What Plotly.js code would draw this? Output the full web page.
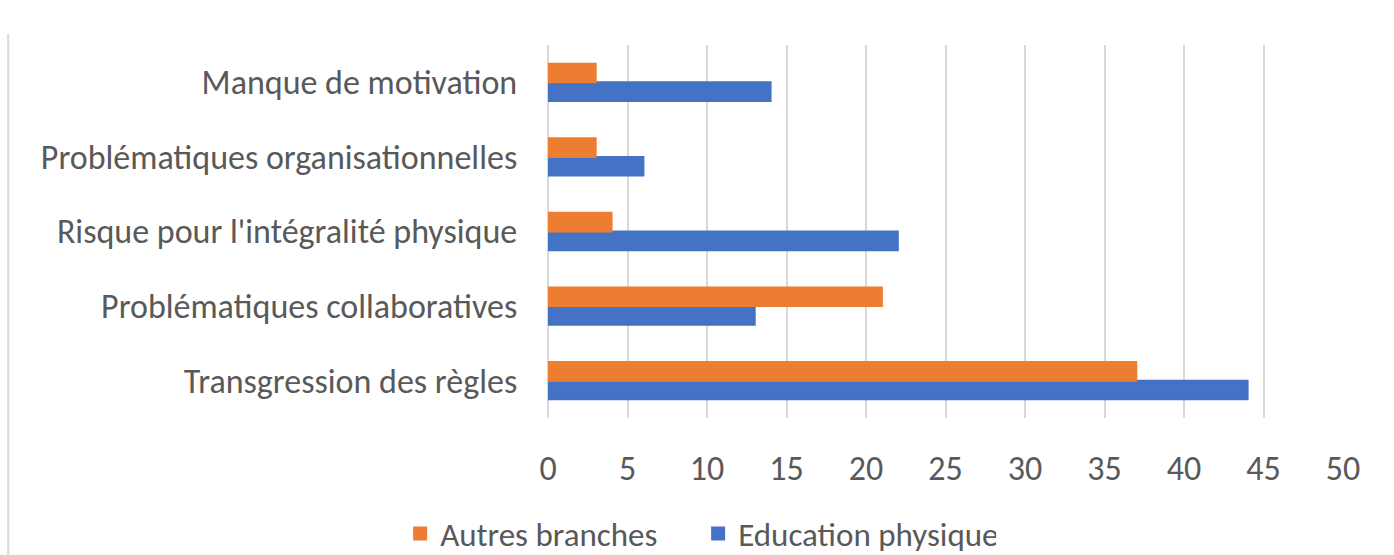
<!DOCTYPE html>
<html>
<head>
<meta charset="utf-8">
<script src="https://cdn.plot.ly/plotly-3.0.1.min.js"></script>
<style>html,body{margin:0;padding:0;background:#fff;}#chart{width:1394px;height:555px;}</style>
</head>
<body>
<div id="chart"></div>
<script>
const categories = [
  "Transgression des règles",
  "Problématiques collaboratives",
  "Risque pour l'intégralité physique",
  "Problématiques organisationnelles",
  "Manque de motivation"
];
const educationPhysique = [44, 13, 22, 6, 14];
const autresBranches = [37, 21, 4, 3, 3];
const xTicks = [0, 5, 10, 15, 20, 25, 30, 35, 40, 45, 50];

const FONT = "Carlito, Calibri, Lato, 'Open Sans', sans-serif";
const TXT = "#595959";
const FS = 34;

const traces = [
  {
    type: "bar", orientation: "h", name: "Education physique",
    y: categories, x: educationPhysique,
    marker: {color: "#4472C4", line: {color: "#4472C4", width: 2}}, hoverinfo: "x"
  },
  {
    type: "bar", orientation: "h", name: "Autres branches",
    y: categories, x: autresBranches,
    marker: {color: "#ED7D31", line: {color: "#ED7D31", width: 2}}, hoverinfo: "x"
  }
];

const layout = {
  width: 1394, height: 555,
  margin: {l: 548, r: 51, t: 45, b: 137, autoexpand: false},
  paper_bgcolor: "#fff", plot_bgcolor: "#fff",
  font: {family: FONT, size: FS, color: TXT},
  barmode: "group",
  bargap: 0.5, bargroupgap: 0,
  showlegend: true,
  legend: {
    orientation: "h", traceorder: "reversed",
    x: -0.186, xanchor: "left", xref: "paper",
    y: -0.31, yanchor: "middle",
    entrywidth: 253,
    font: {family: FONT, size: 33, color: TXT}
  },
  xaxis: {
    range: [0, 50], tickvals: xTicks, ticktext: xTicks.map(String),
    showgrid: true, gridcolor: "#D9D9D9", gridwidth: 2,
    zeroline: true, zerolinecolor: "#D9D9D9", zerolinewidth: 2,
    showline: false, ticks: "outside", ticklen: 20, tickcolor: "rgba(0,0,0,0)",
    tickfont: {family: FONT, size: FS, color: TXT},
    automargin: false, fixedrange: true
  },
  yaxis: {
    type: "category", categoryorder: "array", categoryarray: categories,
    showgrid: false, zeroline: false, showline: false,
    ticks: "outside", ticklen: 23, tickcolor: "rgba(0,0,0,0)",
    tickfont: {family: FONT, size: FS, color: TXT},
    automargin: false, fixedrange: true
  },
  shapes: [{
    type: "line", xref: "paper", yref: "paper",
    x0: -0.679, x1: -0.679, y0: -0.38, y1: 1.03,
    line: {color: "#D9D9D9", width: 2}
  }]
};

Plotly.newPlot("chart", traces, layout, {displayModeBar: false, staticPlot: true});
</script>
</body>
</html>
